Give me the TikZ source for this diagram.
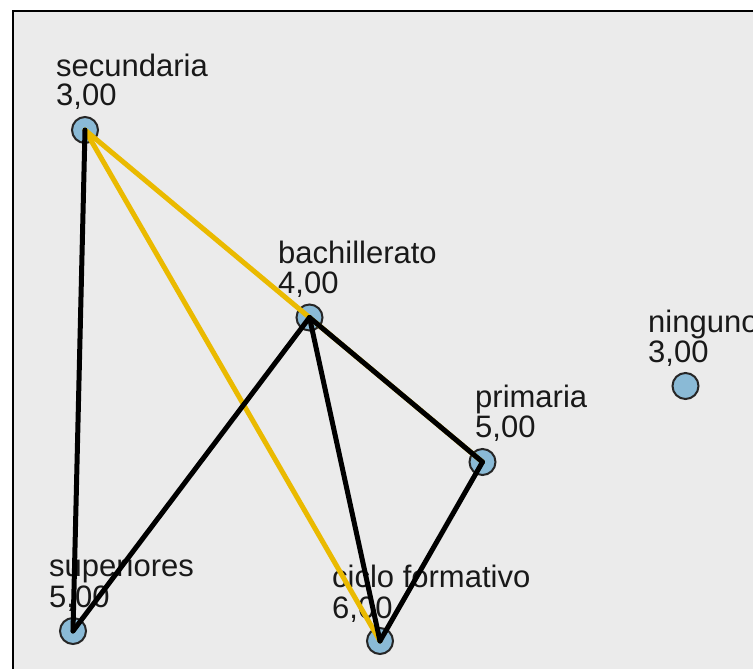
\documentclass[tikz,border=0pt]{standalone}
\usepackage{fontspec}
\setmainfont{Liberation Sans}
\definecolor{bgfill}{RGB}{235,235,235}
\definecolor{nodeblue}{RGB}{138,186,214}
\definecolor{edgeyellow}{RGB}{234,186,0}
\definecolor{txtgray}{RGB}{25,25,25}
\tikzset{
  pt/.style={circle, draw=black!85, line width=2pt, fill=nodeblue, minimum size=26pt, inner sep=0pt},
  lbl/.style={anchor=base west, inner sep=0pt, text=txtgray, font=\fontsize{31}{31}\selectfont},
  blackedge/.style={draw=black, line width=5pt, line cap=round},
  yellowedge/.style={draw=edgeyellow, line width=5pt, line cap=round}
}
\begin{document}
\begin{tikzpicture}[x=1pt,y=-1pt]
\useasboundingbox (0,0) rectangle (753,669);
\begin{scope}
\clip (0,0) rectangle (753,669);
\fill[white] (0,0) rectangle (753,669);
\draw[line width=2pt, fill=bgfill] (13,11) rectangle (790,700);
% labels
\node[lbl] (l1a) at (56,77) {secundaria};
\node[lbl] (l1b) at (56,106) {3,00};
\node[lbl] (l2a) at (278,263) {bachillerato};
\node[lbl] (l2b) at (278,293) {4,00};
\node[lbl] (l3a) at (648,332) {ninguno};
\node[lbl] (l3b) at (648,362) {3,00};
\node[lbl] (l4a) at (475,407) {primaria};
\node[lbl] (l4b) at (475,437) {5,00};
\node[lbl] (l5a) at (49,576) {superiores};
\node[lbl] (l5b) at (49,607) {5,00};
\node[lbl] (l6a) at (332,587) {ciclo formativo};
\node[lbl] (l6b) at (332,618) {6,00};
% points
\node[pt] (sec) at (85,130) {};
\node[pt] (bac) at (309.5,317.5) {};
\node[pt] (nin) at (685.5,386) {};
\node[pt] (pri) at (482.5,462) {};
\node[pt] (sup) at (73,631) {};
\node[pt] (cic) at (380,641) {};
% edges
\draw[yellowedge] (sec.center) -- (pri.center);
\draw[yellowedge] (sec.center) -- (cic.center);
\draw[blackedge] (sec.center) -- (sup.center);
\draw[blackedge] (bac.center) -- (sup.center);
\draw[blackedge] (bac.center) -- (cic.center);
\draw[blackedge] (bac.center) -- (pri.center);
\draw[blackedge] (pri.center) -- (cic.center);
\end{scope}
\end{tikzpicture}
\end{document}
